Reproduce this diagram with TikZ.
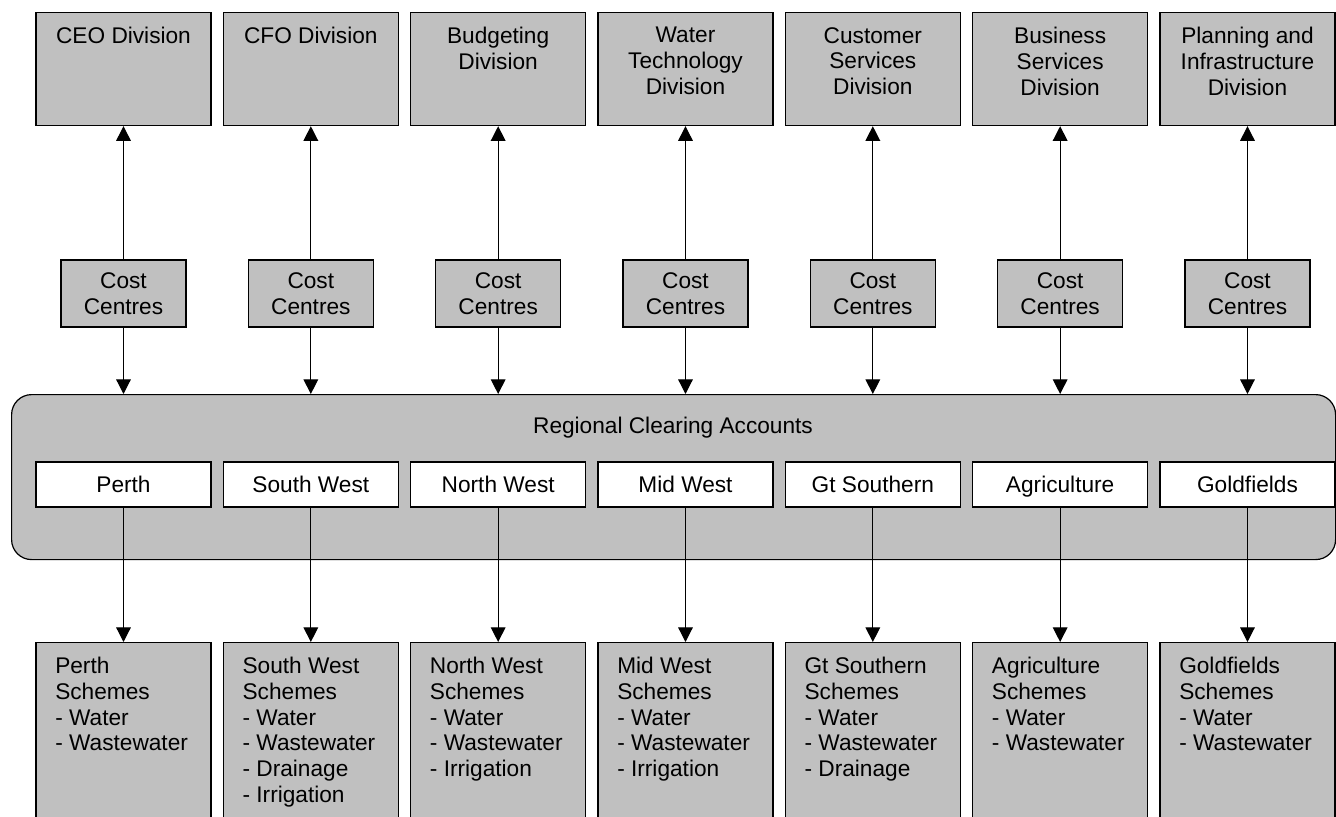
\documentclass[tikz,border=0pt]{standalone}
\usepackage{fontspec}
\setmainfont{Liberation Sans}
\usetikzlibrary{arrows.meta}
\definecolor{boxgray}{HTML}{C0C0C0}

\begin{document}
\begin{tikzpicture}[x=0.75pt,y=-0.75pt,
	font=\fontsize{17}{19.3}\selectfont,
	frame/.style={draw,line width=0.9pt,inner sep=0pt},
	divbox/.style={frame,fill=boxgray,minimum width=131.25pt,minimum height=84.75pt,anchor=north},
	costbox/.style={frame,fill=boxgray,minimum width=93.75pt,minimum height=50.25pt,align=center},
	regbox/.style={frame,fill=white,minimum width=131.25pt,minimum height=33.75pt,text height=14pt,text depth=1.5pt},
	schbox/.style={frame,fill=boxgray,minimum width=131.25pt,minimum height=150pt,anchor=north},
	arr/.style={line width=0.9pt,-{Triangle[length=11pt,width=11pt]}}]
	\useasboundingbox (0,0) rectangle (1336,817);
	% clearing accounts
	\node [frame,fill=boxgray,rounded corners=15pt,minimum width=993pt,minimum height=123.75pt,anchor=north west] (clear) at (11,394) {};
	\node [anchor=base] (cleartitle) at (673,433) {Regional Clearing Accounts};
	\foreach \dv/\rg/\sc [count=\i from 0] in {
		{CEO Division}/Perth/{Perth\\Schemes\\- Water\\- Wastewater},
		{CFO Division}/{South West}/{South West\\Schemes\\- Water\\- Wastewater\\- Drainage\\- Irrigation},
		{Budgeting\\Division}/{North West}/{North West\\Schemes\\- Water\\- Wastewater\\- Irrigation},
		{Water\\Technology\\Division}/{Mid West}/{Mid West\\Schemes\\- Water\\- Wastewater\\- Irrigation},
		{Customer\\Services\\Division}/{Gt Southern}/{Gt Southern\\Schemes\\- Water\\- Wastewater\\- Drainage},
		{Business\\Services\\Division}/Agriculture/{Agriculture\\Schemes\\- Water\\- Wastewater},
		{Planning and\\Infrastructure\\Division}/Goldfields/{Goldfields\\Schemes\\- Water\\- Wastewater}}
	{
		\pgfmathsetmacro{\cx}{123.5+187.33*\i}
		\node [divbox] (div\i) at (\cx,12) {};
		\node [anchor=north,align=center,inner sep=0pt] (divtext\i) at (\cx,27) {\dv};
		\node [costbox] (cc\i) at (\cx,293.5) {Cost\\Centres};
		\node [regbox] (reg\i) at (\cx,484.5) {\rg};
		\node [schbox] (sch\i) at (\cx,642) {};
		\node [anchor=north west,align=left,inner sep=0pt] (schtext\i) at (\cx-68.5,657) {\sc};
		\draw [arr] (cc\i.north) -- (div\i.south);
		\draw [arr] (cc\i.south) -- (cc\i.south |- clear.north);
		\draw [arr] (reg\i.south) -- (sch\i.north);
	}
\end{tikzpicture}
\end{document}
